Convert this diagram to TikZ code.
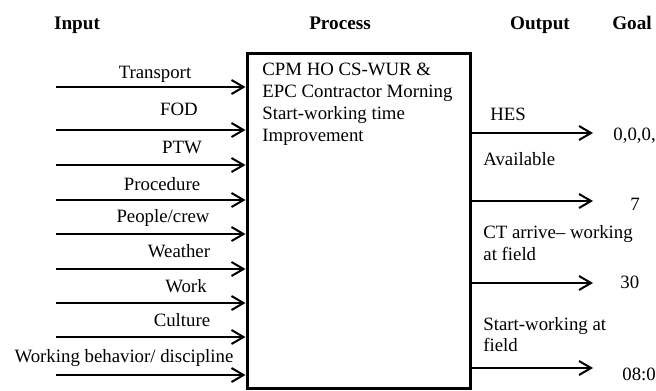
\documentclass[tikz,border=0pt]{standalone}
\usepackage{fontspec}
\setmainfont{Liberation Serif}
\usetikzlibrary{arrows.meta}

\begin{document}
\begin{tikzpicture}[x=0.5pt, y=-0.5pt, font=\fontsize{9.4}{11}\selectfont,
        head/.style={font=\fontsize{9.6}{11}\selectfont\bfseries, anchor=base, inner sep=0pt},
        lbl/.style={anchor=base, inner sep=0pt},
        olbl/.style={anchor=base west, inner sep=0pt},
        flow/.style={line width=1pt, -{Straight Barb[length=6pt, width=7pt, line width=1pt]}}]
        \useasboundingbox (0,0) rectangle (656,390);

        \node (hin) at (77,30) [head] {Input};
        \node (hproc) at (340,30) [head] {Process};
        \node (hout) at (540,30) [head] {Output};
        \node (hgoal) at (632,30) [head] {Goal};

        \node (proc) at (358.5,221) [draw, line width=1.5pt, minimum width=111.5pt, minimum height=167pt, inner sep=0pt] {};
        \node (ptext) at (262,63) [anchor=north west, inner sep=0pt, align=left] {CPM HO CS-WUR \&\\EPC Contractor Morning\\Start-working time\\Improvement};

        \foreach \n/\y/\x/\b/\t in {1/87/155/78/Transport, 2/130/179/115/FOD, 3/165/182/153/PTW,
                4/200/162/190/Procedure, 5/234/163/222/{People/crew}, 6/269/179/257/Weather,
                7/303/186/292/Work, 8/337/182/326/Culture, 9/375/124/362/{Working behavior/ discipline}}
        {
            \coordinate (in\n) at (56,\y);
            \draw[flow] (in\n) -- (in\n -| proc.west);
            \node (il\n) at (\x,\b) [lbl] {\t};
        }

        \foreach \n/\y in {1/133, 2/201, 3/283, 4/368}
        {
            \coordinate (out\n) at (593,\y);
            \draw[flow] (out\n -| proc.east) -- (out\n);
        }

        \node (ol1) at (490,120) [olbl] {HES};
        \node (ol2) at (483,165) [olbl] {Available};
        \node (ol3) at (483,238) [olbl] {CT arrive-- working};
        \node (ol3b) at (483,260) [olbl] {at field};
        \node (ol4) at (483,330) [olbl] {Start-working at};
        \node (ol4b) at (483,351) [olbl] {field};

        \node (g1) at (613,140) [olbl] {0,0,0,};
        \node (g2) at (635,210) [lbl] {7};
        \node (g3) at (620,288) [olbl] {30};
        \node (g4) at (622,380) [olbl] {08:0};
    \end{tikzpicture}
\end{document}
